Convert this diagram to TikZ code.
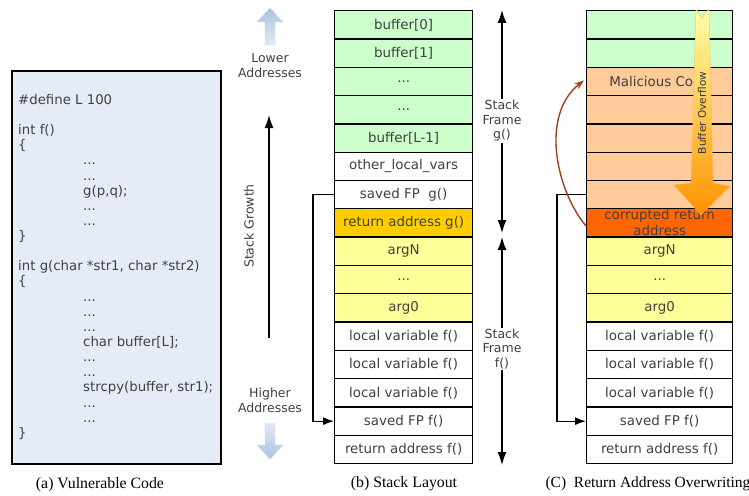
\documentclass[tikz,border=0pt]{standalone}
\usepackage{fontspec}
\setmainfont{DejaVu Sans}
\newfontfamily\capfont{Liberation Serif}
\usetikzlibrary{arrows.meta}
\definecolor{txt}{HTML}{404040}
\definecolor{gr}{HTML}{CCFFCC}
\definecolor{yl}{HTML}{FFFF99}
\definecolor{gd}{HTML}{FFCC00}
\definecolor{pc}{HTML}{FFCC99}
\definecolor{cor}{HTML}{FF6600}
\definecolor{codebg}{HTML}{E6ECF7}
\definecolor{brn}{HTML}{A0421C}
\definecolor{bluedark}{HTML}{A9C2E2}
\definecolor{bluelight}{HTML}{E2EAF5}
\begin{document}
\begin{tikzpicture}[x=1pt,y=-1pt,
  font=\fontsize{12.5}{14.5}\selectfont,
  cellb/.style={draw=black, line width=1.3pt, minimum width=138pt, minimum height=28.31pt, inner sep=0pt, anchor=north west, text=txt, font=\fontsize{13.4}{16}\selectfont},
  cellc/.style={cellb, minimum width=146pt},
  conn/.style={line width=1.3pt, -{Latex[length=11pt,width=8pt]}},
  frarrow/.style={line width=1.3pt, {Latex[length=13pt,width=9pt]}-{Latex[length=13pt,width=9pt]}},
  lbl/.style={text=txt, align=center, font=\fontsize{12.5}{14.5}\selectfont},
  captext/.style={font=\capfont\fontsize{15.8}{18}\selectfont}
]
\useasboundingbox (0,0) rectangle (749,495);

% (a) code box
\node[draw=black, line width=1.6pt, fill=codebg, minimum width=209pt, minimum height=393pt, anchor=north west, inner sep=0pt] (codebox) at (11,70) {};
\node[anchor=north west, inner sep=0pt, align=left, text=txt, font=\fontsize{13.3}{15.14}\selectfont] (code) at (18,94) {%
\#define L 100\\
\mbox{}\\
int f()\\
\{\\
\hspace*{65pt}...\\
\hspace*{65pt}...\\
\hspace*{65pt}g(p,q);\\
\hspace*{65pt}...\\
\hspace*{65pt}...\\
\}\\
\mbox{}\\
int g(char *str1, char *str2)\\
\{\\
\hspace*{65pt}...\\
\hspace*{65pt}...\\
\hspace*{65pt}...\\
\hspace*{65pt}char buffer[L];\\
\hspace*{65pt}...\\
\hspace*{65pt}...\\
\hspace*{65pt}strcpy(buffer, str1);\\
\hspace*{65pt}...\\
\hspace*{65pt}...\\
\}};
\node[captext] (capa) at (100,485) {(a) Vulnerable Code};

% (b) stack layout
\foreach \lab/\col [count=\i from 0] in {{buffer[0]}/gr,{buffer[1]}/gr,{...}/gr,{...}/gr,{buffer[L-1]}/gr,{other\_local\_vars}/white,{saved FP\ \ g()}/white,{return address g()}/gd,{argN}/yl,{...}/yl,{arg0}/yl,{local variable f()}/white,{local variable f()}/white,{local variable f()}/white,{saved FP f()}/white,{return address f()}/white}
  \node[cellb, fill=\col] (b\i) at (334,{10+\i*28.31}) {\lab};

\draw[conn] (b6.west) -- ++(-21,0) |- (b14.west);

\coordinate (gtop) at (502,10);
\coordinate (gbot) at (502,233);
\coordinate (ftop) at (502,237);
\coordinate (fbot) at (502,465);
\draw[frarrow] (gtop) -- (gbot);
\draw[frarrow] (ftop) -- (fbot);
\node[lbl, fill=white, inner sep=1pt] (sfg) at (502,121) {Stack\\Frame\\g()};
\node[lbl, fill=white, inner sep=1pt] (sff) at (502,349) {Stack\\Frame\\f()};

% stack growth
\coordinate (sg1) at (269,338);
\coordinate (sg2) at (269,115);
\draw[conn, -{Latex[length=13pt,width=9pt]}] (sg1) -- (sg2);
\node[lbl, rotate=90] (sgl) at (249,226) {Stack Growth};

% lower/higher addresses
\shade[top color=bluedark, bottom color=bluelight, draw=bluedark!60, line width=0.3pt]
  (265,45) -- (265,22) -- (257,22) -- (270,8) -- (283,22) -- (275,22) -- (275,45) -- cycle;
\node[lbl, font=\fontsize{12.5}{15}\selectfont] (lower) at (270,66) {Lower\\Addresses};
\node[lbl, font=\fontsize{12.5}{15}\selectfont] (higher) at (270,400) {Higher\\Addresses};
\shade[top color=bluelight, bottom color=bluedark, draw=bluedark!60, line width=0.3pt]
  (265,423) -- (265,445) -- (257,445) -- (270,459) -- (283,445) -- (275,445) -- (275,423) -- cycle;

\node[captext] (capb) at (404,484) {(b) Stack Layout};

% (c) return address overwriting
\foreach \lab/\col [count=\i from 0] in {{}/gr,{}/gr,{Malicious Code}/pc,{}/pc,{}/pc,{}/pc,{}/pc,{}/cor,{argN}/yl,{...}/yl,{arg0}/yl,{local variable f()}/white,{local variable f()}/white,{local variable f()}/white,{saved FP f()}/white,{return address f()}/white}
  \node[cellc, fill=\col] (c\i) at (586,{10+\i*28.31}) {\lab};
\node[lbl, font=\fontsize{13.4}{16}\selectfont, text=black!75] (cortxt) at (c7.center) {corrupted return\\address};

\draw[conn] (c6.west) -- ++(-29,0) |- (c14.west);

\draw[brn, line width=1.4pt, -{Stealth[length=10pt,width=7pt]}]
  ([yshift=-3pt]c7.west) .. controls (556,190) and (540,115) .. ([xshift=-2pt,yshift=1pt]c2.west);

\shade[top color=yellow!35, bottom color=orange!85!yellow, draw=orange!60, line width=0.3pt]
  (696,9) -- (702,18) -- (709,9) -- (713,183) -- (730,186) -- (701,215) -- (674,185) -- (691,183) -- cycle;
\node[rotate=90, text=black!80, font=\fontsize{10.5}{12}\selectfont] (bo) at (702,113) {Buffer Overflow};

\node[captext, anchor=west, font=\capfont\fontsize{15.5}{18}\selectfont] (capc) at (542,484) {(C)\ \ Return Address Overwriting};
\end{tikzpicture}
\end{document}
